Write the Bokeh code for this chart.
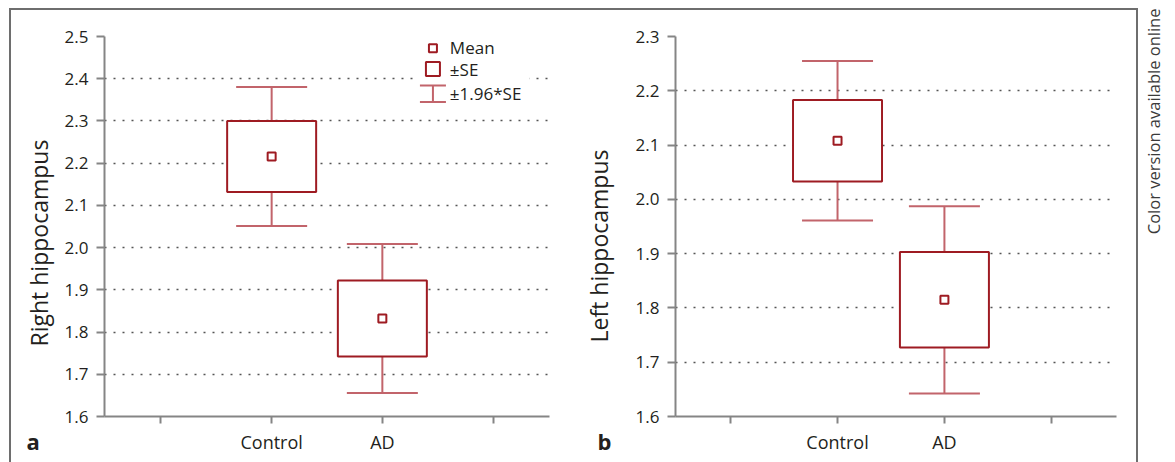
import math
from bokeh.plotting import figure
from bokeh.layouts import row, column
from bokeh.models import (Range1d, FixedTicker, NumeralTickFormatter, Label, Spacer, Title)
from bokeh.core.properties import value
from bokeh.embed import file_html
from bokeh.resources import INLINE

# ---------------- data ----------------
groups = ["Control", "AD"]
group_pos = [2, 3]
tick_pos = [1, 2, 3, 4]

right_mean = [2.216, 1.832]
right_se = [0.084, 0.090]
right_yticks = [1.6, 1.7, 1.8, 1.9, 2.0, 2.1, 2.2, 2.3, 2.4, 2.5]

left_mean = [2.108, 1.815]
left_se = [0.075, 0.088]
left_yticks = [1.6, 1.7, 1.8, 1.9, 2.0, 2.1, 2.2, 2.3]

legend_labels = ["Mean", "\u00b1SE", "\u00b11.96*SE"]

# ---------------- style ----------------
FONT = "Open Sans"
BOX = "#9e1b22"
WHISK = "#c2646b"
AXIS = "#858585"
TEXT = "#231f20"
GRID = "#555555"
FRAME = "#6e6e6e"


def panel(width, height, yticks, xr, mb, ylabel, label_offset, label_standoff, letter, letter_dx):
    p = figure(width=width, height=height, x_range=Range1d(*xr),
               y_range=Range1d(yticks[0], yticks[-1]),
               min_border_left=mb[0], min_border_right=mb[1], min_border_top=mb[2],
               min_border_bottom=mb[3], toolbar_location=None, output_backend="svg",
               background_fill_color="white", border_fill_color="white")
    p.outline_line_color = None
    p.xgrid.visible = False
    p.ygrid.ticker = FixedTicker(ticks=yticks)
    p.ygrid.grid_line_color = GRID
    p.ygrid.grid_line_dash = "2 7"
    p.ygrid.grid_line_width = 1.3

    xa = p.xaxis[0]
    xa.ticker = FixedTicker(ticks=tick_pos)
    overrides = {t: "" for t in tick_pos}
    overrides.update({g: n for g, n in zip(group_pos, groups)})
    xa.major_label_overrides = overrides
    xa.minor_tick_line_color = None
    xa.major_tick_in = 0
    xa.major_tick_out = 7
    xa.major_label_standoff = 6

    ya = p.yaxis[0]
    ya.ticker = FixedTicker(ticks=yticks)
    ya.formatter = NumeralTickFormatter(format="0.0")
    ya.minor_tick_line_color = None
    ya.major_tick_in = 0
    ya.major_tick_out = 8
    ya.major_label_standoff = 8

    for ax in (xa, ya):
        ax.axis_line_color = AXIS
        ax.axis_line_width = 2
        ax.major_tick_line_color = AXIS
        ax.major_tick_line_width = 2
        ax.major_label_text_font = FONT
        ax.major_label_text_color = TEXT
    xa.major_label_text_font_size = "18px"
    ya.major_label_text_font_size = "17px"

    # y-axis title (left side panel, placed along the axis like the original)
    p.add_layout(Title(text=ylabel, align="left", offset=label_offset, standoff=label_standoff,
                       vertical_align="top", text_font=FONT, text_font_size="23px",
                       text_font_style="normal", text_color=TEXT), "left")

    # panel letter, placed in the panel below the x axis and pulled up beside the labels
    p.add_layout(Title(text=letter, align="left", offset=letter_dx, standoff=-62,
                       vertical_align="top", text_font=FONT, text_font_size="22px",
                       text_font_style="bold", text_color=TEXT), "below")
    return p


def draw_boxes(p, means, ses):
    lo_se = [m - s for m, s in zip(means, ses)]
    hi_se = [m + s for m, s in zip(means, ses)]
    lo_ci = [m - 1.96 * s for m, s in zip(means, ses)]
    hi_ci = [m + 1.96 * s for m, s in zip(means, ses)]
    mid = [(a + b) / 2 for a, b in zip(lo_se, hi_se)]
    hgt = [b - a for a, b in zip(lo_se, hi_se)]
    p.segment(x0=group_pos, y0=lo_ci, x1=group_pos, y1=hi_ci, line_color=WHISK, line_width=2)
    p.scatter(x=group_pos, y=hi_ci, marker="dash", size=71, line_color=WHISK, line_width=2)
    p.scatter(x=group_pos, y=lo_ci, marker="dash", size=71, line_color=WHISK, line_width=2)
    p.rect(x=group_pos, y=mid, width=89, width_units="screen", height=hgt,
           fill_color="white", line_color=BOX, line_width=2)
    p.scatter(x=group_pos, y=means, marker="square", size=8, fill_color="white",
              line_color=BOX, line_width=2)


# ---------------- panel a ----------------
p1 = panel(554, 452, right_yticks, (0.49, 4.51), (93, 16, 22, 45),
           "Right hippocampus", 70, 10, "a", -78)

# legend (manual, inside panel a)
lx, ltx = 3.457, 3.61
p1.quad(left=[3.30], right=[4.33], bottom=[2.33], top=[2.49], fill_color="white", line_color=None)
draw_boxes(p1, right_mean, right_se)
p1.scatter(x=[lx], y=[2.472], marker="square", size=8, fill_color="white", line_color=BOX, line_width=2)
p1.scatter(x=[lx], y=[2.423], marker="square", size=14, fill_color="white", line_color=BOX, line_width=2)
p1.segment(x0=[lx], y0=[2.345], x1=[lx], y1=[2.384], line_color=WHISK, line_width=2)
p1.scatter(x=[lx, lx], y=[2.345, 2.384], marker="dash", size=26, line_color=WHISK, line_width=2)
p1.text(x=[ltx] * 3, y=[2.474, 2.421, 2.364], text=legend_labels, text_font=value(FONT),
        text_font_size="17px", text_baseline="middle", text_color=TEXT)

# ---------------- panel b ----------------
p2 = panel(571, 452, left_yticks, (0.484, 4.61), (110, 20, 26, 46),
           "Left hippocampus", 74, 32, "b", -78)
draw_boxes(p2, left_mean, left_se)

# ---------------- side note ----------------
p3 = figure(width=37, height=462, min_border=0, toolbar_location=None, output_backend="svg",
            x_axis_location=None, y_axis_location=None, x_range=Range1d(0, 1), y_range=Range1d(0, 1))
p3.outline_line_color = None
p3.grid.visible = False
p3.add_layout(Label(x=15, y=454, x_units="screen", y_units="screen", angle=math.pi / 2,
                    text="Color version available online", text_font=FONT, text_font_size="16.5px",
                    text_color="#3a3a3a", text_align="right", text_baseline="middle"))


def bar(w, h):
    return Spacer(width=w, height=h, styles={"background-color": FRAME})


layout = row(
    Spacer(width=9, height=462),
    column(Spacer(width=1129, height=8), bar(1129, 2),
           row(bar(2, 452), p1, p2, bar(2, 452))),
    p3,
)

open("out.html", "w").write(file_html(layout, INLINE))
